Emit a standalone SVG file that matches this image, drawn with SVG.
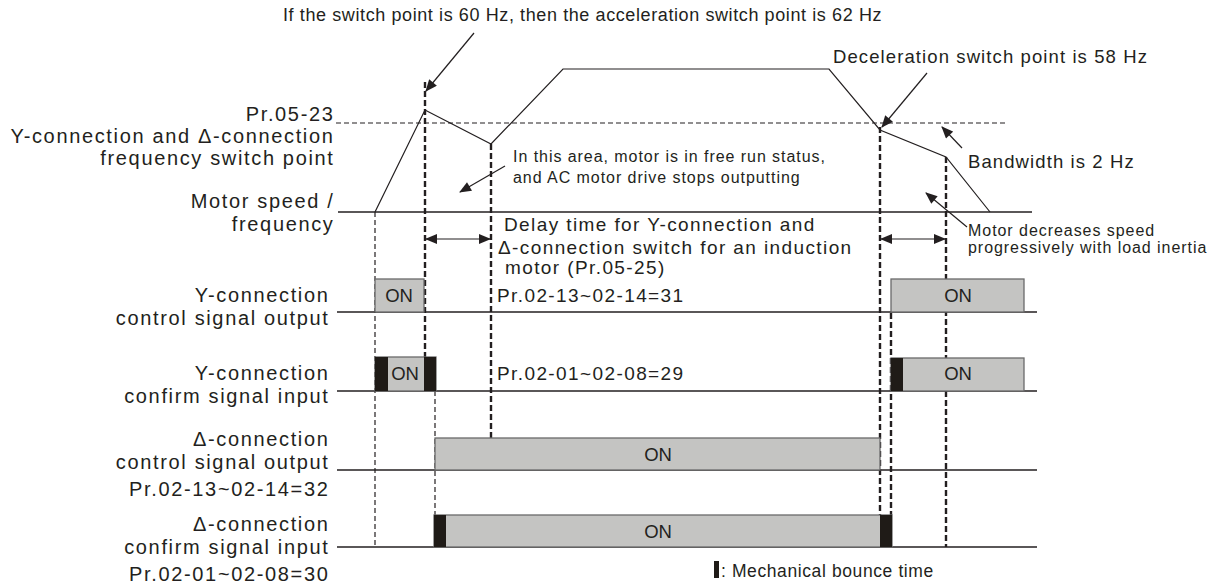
<svg xmlns="http://www.w3.org/2000/svg" width="1218" height="586" viewBox="0 0 1218 586">
<style>
text{font-family:"Liberation Sans",Arial,sans-serif;fill:#231f20}
.lbl{font-size:20px;letter-spacing:1.65px;text-anchor:end}
.top{font-size:18px;letter-spacing:0.6px}
.ann{font-size:18.5px;letter-spacing:1.1px}
.sm{font-size:16px;letter-spacing:0.95px}
.mid{font-size:19px;letter-spacing:1.4px}
.on{font-size:18.5px;text-anchor:middle}
.base{stroke:#231f20;stroke-width:1.3;fill:none}
.wave{stroke:#231f20;stroke-width:1.2;fill:none}
.thin{stroke:#231f20;stroke-width:1.2;stroke-dasharray:5 3;fill:none}
.thick{stroke:#231f20;stroke-width:2.4;stroke-dasharray:6 3;fill:none}
.box{fill:#c4c4c2;stroke:#6a6a6a;stroke-width:1.3}
.bar{fill:#1f1b17}
.arr{stroke:#231f20;stroke-width:1.2;fill:none}
</style>
<defs>
<marker id="ah" viewBox="0 0 12 10" refX="11" refY="5" markerWidth="13" markerHeight="10" markerUnits="userSpaceOnUse" orient="auto-start-reverse">
<path d="M0,0 L12,5 L0,10 Z" fill="#231f20"/>
</marker>
</defs>

<g id="labels">
<text class="lbl" x="334.5" y="121">Pr.05-23</text>
<text class="lbl" x="334.5" y="143">Y-connection and Δ-connection</text>
<text class="lbl" x="334.5" y="165">frequency switch point</text>
<text class="lbl" x="334.5" y="208">Motor speed /</text>
<text class="lbl" x="334.5" y="231">frequency</text>
<text class="lbl" x="329.5" y="302">Y-connection</text>
<text class="lbl" x="329.5" y="325">control signal output</text>
<text class="lbl" x="329.5" y="380">Y-connection</text>
<text class="lbl" x="329.5" y="403">confirm signal input</text>
<text class="lbl" x="329.5" y="446">Δ-connection</text>
<text class="lbl" x="329.5" y="469">control signal output</text>
<text class="lbl" x="329.5" y="496">Pr.02-13~02-14=32</text>
<text class="lbl" x="329.5" y="531">Δ-connection</text>
<text class="lbl" x="329.5" y="554">confirm signal input</text>
<text class="lbl" x="329.5" y="581">Pr.02-01~02-08=30</text>
</g>

<g id="dashed-guides">
<line class="thin" x1="336" y1="123" x2="1008" y2="123"/>
<line class="thin" x1="375" y1="212" x2="375" y2="547"/>
<line class="thick" x1="425" y1="82" x2="425" y2="357"/>
<line class="thin" x1="435" y1="391" x2="435" y2="515"/>
<line class="thick" x1="491" y1="144" x2="491" y2="438"/>
<line class="thick" x1="880" y1="127" x2="880" y2="515"/>
<line class="thick" x1="891" y1="313" x2="891" y2="515"/>
<line class="thick" x1="946" y1="157" x2="946" y2="547"/>
</g>

<g id="baselines">
<line class="base" x1="338" y1="212" x2="1032" y2="212"/>
<line class="base" x1="337" y1="312" x2="1037" y2="312"/>
<line class="base" x1="337" y1="391" x2="1037" y2="391"/>
<line class="base" x1="337" y1="470" x2="1037" y2="470"/>
<line class="base" x1="337" y1="547" x2="1037" y2="547"/>
</g>

<g id="motor-speed">
<polyline class="wave" points="375,212 425,110 491,144 563,69 829,69 880,130 946,157 990,212"/>
</g>

<g id="y-control">
<rect class="box" x="375" y="279" width="49" height="33"/>
<text class="on" x="399" y="302">ON</text>
<rect class="box" x="891" y="279" width="133" height="33"/>
<text class="on" x="958" y="302">ON</text>
<text class="mid" x="497" y="302">Pr.02-13~02-14=31</text>
</g>

<g id="y-confirm">
<rect class="box" x="375" y="357" width="61" height="34"/>
<rect class="bar" x="375" y="357" width="13" height="34"/>
<rect class="bar" x="424" y="357" width="12" height="34"/>
<text class="on" x="405" y="380">ON</text>
<rect class="box" x="891" y="358" width="133" height="33"/>
<rect class="bar" x="891" y="358" width="12" height="33"/>
<text class="on" x="958" y="380">ON</text>
<text class="mid" x="497" y="380">Pr.02-01~02-08=29</text>
</g>

<g id="delta-control">
<rect class="box" x="435" y="438" width="445" height="32"/>
<text class="on" x="658" y="461">ON</text>
</g>

<g id="delta-confirm">
<rect class="box" x="434" y="515" width="458" height="32"/>
<rect class="bar" x="434" y="515" width="12" height="32"/>
<rect class="bar" x="880" y="515" width="12" height="32"/>
<text class="on" x="658" y="538">ON</text>
</g>

<g id="connectors">
<line class="arr" x1="474" y1="33" x2="426" y2="91" marker-end="url(#ah)"/>
<line class="arr" x1="927" y1="73" x2="882" y2="127" marker-end="url(#ah)"/>
<line class="arr" x1="962" y1="148" x2="942" y2="127" marker-end="url(#ah)"/>
<line class="arr" x1="967" y1="227" x2="926" y2="193" marker-end="url(#ah)"/>
<line class="arr" x1="505" y1="166" x2="460" y2="192" marker-end="url(#ah)"/>
<line class="arr" x1="426" y1="239" x2="490" y2="239" marker-start="url(#ah)" marker-end="url(#ah)"/>
<line class="arr" x1="881" y1="239" x2="945" y2="239" marker-start="url(#ah)" marker-end="url(#ah)"/>
</g>

<g id="annotations">
<text class="top" x="283" y="21">If the switch point is 60 Hz, then the acceleration switch point is 62 Hz</text>
<text class="ann" x="833" y="63">Deceleration switch point is 58 Hz</text>
<text class="ann" x="968" y="168">Bandwidth is 2 Hz</text>
<text class="sm" x="513" y="162">In this area, motor is in free run status,</text>
<text class="sm" x="513" y="183">and AC motor drive stops outputting</text>
<text class="sm" x="968" y="236">Motor decreases speed</text>
<text class="sm" x="968" y="253">progressively with load inertia</text>
<text class="mid" x="504" y="231" letter-spacing="1.8">Delay time for Y-connection and</text>
<text class="mid" x="498" y="254">Δ-connection switch for an induction</text>
<text class="mid" x="505" y="274">motor (Pr.05-25)</text>
</g>

<g id="legend">
<rect class="bar" x="714" y="561" width="5" height="17"/>
<text x="721" y="577" font-size="17.5" letter-spacing="0.6">: Mechanical bounce time</text>
</g>
</svg>
